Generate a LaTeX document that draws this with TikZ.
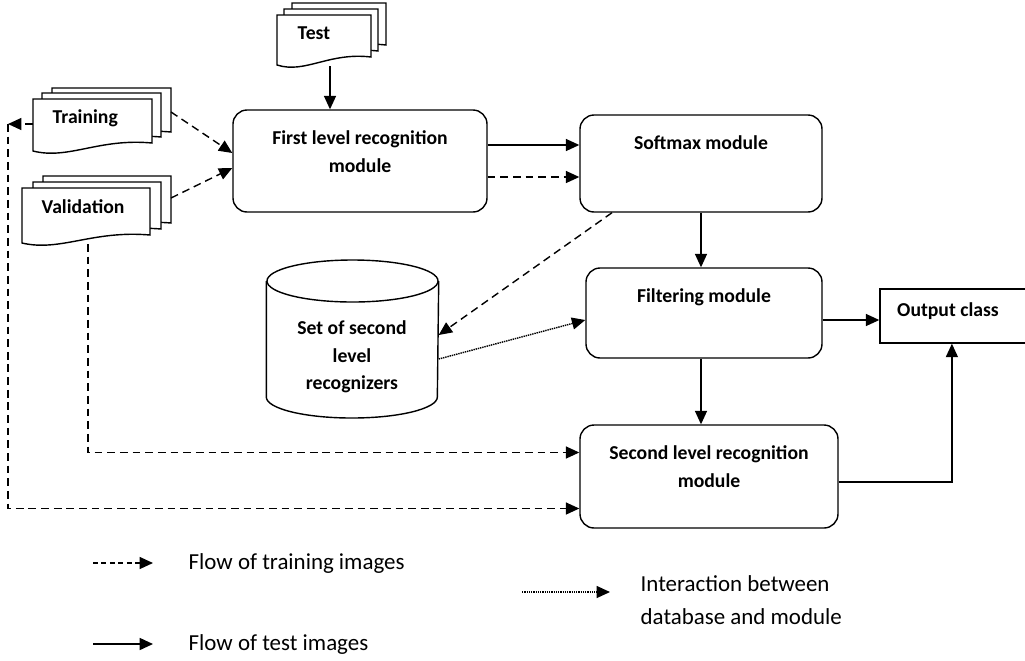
\documentclass[tikz,border=0pt]{standalone}
\usepackage{fontspec}
\setmainfont{Carlito}
\usetikzlibrary{arrows.meta}

\newcommand{\pxu}{0.025cm}
% one sheet of a stack of documents : x, y, width, height
\newcommand{\docsheet}[4]{%
  \filldraw[fill=white] (#1,#2) -- (#1+#3,#2) -- (#1+#3,#2+#4-8)
    .. controls (#1+0.55*#3,#2+#4-13) and (#1+0.3*#3,#2+#4+9) .. (#1,#2+#4) -- cycle;}

\tikzset{
  modbox/.style={draw, rounded corners=10pt},
  lbl/.style={font=\bfseries\fontsize{14}{19.5}\selectfont, align=center, inner sep=0pt},
  legtxt/.style={font=\fontsize{16.3}{24}\selectfont, align=left, inner sep=0pt},
  flow/.style={-{Triangle[length=9.5pt,width=8.5pt]}},
  trainflow/.style={flow, dash pattern=on 5.5pt off 3.5pt},
  dbflow/.style={flow, dash pattern=on 1pt off 0.6pt, line width=1pt}
}

\begin{document}
\begin{tikzpicture}[x=0.025cm, y=-0.025cm, line width=1pt]
 \useasboundingbox (0,0) rectangle (1025,660);

 %%%%%%%%%% Stacks of images %%%%%%%%%%
 % Test
 \docsheet{292}{3}{94}{50}
 \docsheet{284}{9}{94}{50}
 \docsheet{277}{15}{94}{50}
 \node[lbl, anchor=west] (test) at (297,33) {Test};
 \coordinate (test-s) at (330,66);

 % Training
 \docsheet{52}{88}{119}{52}
 \docsheet{42}{93}{119}{52}
 \docsheet{33}{99}{119}{52}
 \node[lbl, anchor=west] (train) at (52,118) {Training};
 \coordinate (train-e) at (171,112);
 \coordinate (train-w) at (33,124);
 \coordinate (loop) at (8,124);

 % Validation
 \docsheet{43}{176}{128}{55}
 \docsheet{33}{182}{128}{55}
 \docsheet{22}{188}{128}{55}
 \node[lbl, anchor=west] (valid) at (41,207) {Validation};
 \coordinate (valid-e) at (171,198);
 \coordinate (valid-s) at (88,244);

 %%%%%%%%%% Modules %%%%%%%%%%
 \node[modbox, minimum width=254*\pxu, minimum height=102*\pxu] (first) at (360,161) {};
 \node[lbl] (first-t) at (360,151.5) {First level recognition\\module};

 \node[modbox, minimum width=242*\pxu, minimum height=97*\pxu] (soft) at (701,163.5) {};
 \node[lbl] (soft-t) at (701,143) {Softmax module};

 \node[modbox, minimum width=236*\pxu, minimum height=90*\pxu] (filt) at (704,313) {};
 \node[lbl] (filt-t) at (704,297) {Filtering module};

 \node[modbox, minimum width=258*\pxu, minimum height=103*\pxu] (second) at (709,476.5) {};
 \node[lbl] (second-t) at (709,466.5) {Second level recognition\\module};

 \node[draw, minimum width=155*\pxu, minimum height=54*\pxu] (out) at (957.5,316) {};
 \node[lbl] (out-t) at (948,311) {Output class};

 % database of second level recognizers
 \node[minimum width=171*\pxu, minimum height=158*\pxu] (db) at (352.5,339) {};
 \draw (db.west |- 0,281) -- (db.west |- 0,397)
   arc[start angle=180, end angle=360, x radius=2.1375cm, y radius=0.525cm]
   -- (db.east |- 0,281);
 \draw (352.5,281) ellipse [x radius=2.1375cm, y radius=0.525cm];
 \node[lbl] (db-t) at (352,357) {Set of second\\level\\recognizers};

 %%%%%%%%%% Connections %%%%%%%%%%
 \draw[flow] (test-s) -- (test-s |- first.north);
 \draw[trainflow] (train-e) -- ([yshift=0.2cm]first.west);
 \draw[trainflow] (valid-e) -- ([yshift=-0.175cm]first.west);

 \draw[flow] ([yshift=0.4cm]first.east) -- ([yshift=0.4cm]first.east -| soft.west);
 \draw[trainflow] ([yshift=-0.4cm]first.east) -- ([yshift=-0.4cm]first.east -| soft.west);

 \draw[flow] (soft.south) -- (soft.south |- filt.north);
 \draw[flow] (soft.south |- filt.south) -- (soft.south |- second.north);

 \draw[trainflow] ([xshift=-2.225cm]soft.south) -- ([yshift=0.1cm]db.east);
 \draw[dbflow] ([yshift=-0.5cm]db.east) -- ([yshift=-0.175cm]filt.west);

 \draw[flow] ([yshift=-0.175cm]filt.east) -- ([yshift=-0.175cm]filt.east -| out.west);
 \draw[flow] ([yshift=-0.14cm]second.east) -| ([xshift=-0.14cm]out.south);

 \draw[trainflow] (train-w) -- (loop);
 \draw[trainflow] (loop) |- ([yshift=-0.8cm]second.west);
 \draw[trainflow] (valid-s) |- ([yshift=0.6cm]second.west);

 %%%%%%%%%% Legend %%%%%%%%%%
 \node[legtxt, anchor=west] (leg-tr) at (188,563) {Flow of training images};
 \node[legtxt, anchor=west] (leg-db) at (640,600) {Interaction between\\database and module};
 \node[legtxt, anchor=west] (leg-te) at (188,644) {Flow of test images};

 \draw[flow, dash pattern=on 3.5pt off 2.5pt] ([xshift=-95*\pxu]leg-tr.west) -- ([xshift=-35*\pxu]leg-tr.west);
 \draw[dbflow] ([xshift=-118*\pxu, yshift=8*\pxu]leg-db.west) -- ([xshift=-30*\pxu, yshift=8*\pxu]leg-db.west);
 \draw[flow, line width=1.3pt] ([xshift=-95*\pxu]leg-te.west) -- ([xshift=-35*\pxu]leg-te.west);

\end{tikzpicture}
\end{document}
